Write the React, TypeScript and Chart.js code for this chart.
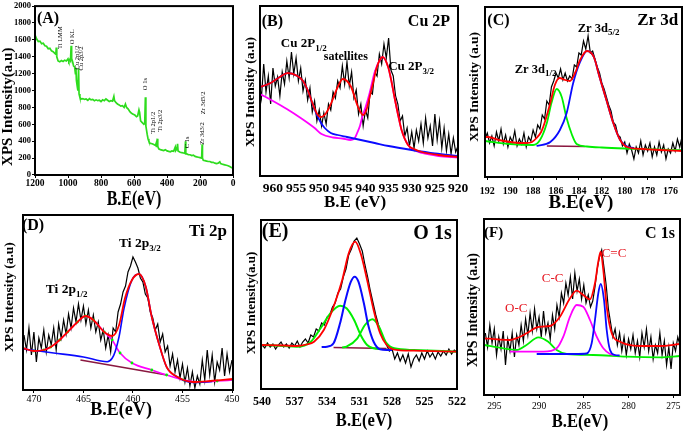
import React, { useEffect, useRef } from 'react';
import { Chart, registerables } from 'chart.js';

Chart.register(...registerables);

const FONT = '"Liberation Serif", "Times New Roman", serif';
const W = 685;
const H = 435;

type Pt = [number, number];

// ---------- (A) survey ----------
const surveyData: Pt[] = [
  [1200, 1660], [1190, 1610], [1180, 1580], [1170, 1585], [1160, 1555], [1150, 1560], [1140, 1530], [1130, 1525],
  [1120, 1495], [1110, 1500], [1100, 1470], [1090, 1460], [1080, 1440], [1074, 1430], [1071, 1510], [1068, 1400],
  [1060, 1350], [1050, 1340], [1040, 1355], [1030, 1345], [1020, 1360], [1010, 1350], [1000, 1375], [995, 1345],
  [990, 1365], [985, 1350], [981, 1530], [978, 1380], [972, 1340], [966, 1290], [960, 1280], [955, 1200],
  [952, 1270], [949, 1120], [944, 1050], [940, 1000], [936, 1260], [933, 960], [928, 920], [920, 900],
  [910, 905], [900, 895], [890, 900], [880, 885], [870, 905], [860, 890], [850, 895], [840, 880], [830, 890],
  [820, 880], [810, 885], [800, 870], [790, 890], [780, 880], [770, 900], [760, 885], [750, 870], [740, 880],
  [730, 875], [722, 930], [718, 880], [710, 860], [700, 840], [690, 830], [680, 815], [670, 820], [660, 800],
  [652, 840], [645, 800], [635, 780], [625, 750], [615, 730], [605, 720], [595, 710], [585, 690], [578, 700],
  [570, 770], [566, 740], [560, 640], [550, 620], [540, 600], [535, 610], [531, 920], [528, 580], [520, 480],
  [515, 430], [510, 400], [505, 380], [500, 375], [490, 370], [480, 360], [470, 350], [465, 380], [463, 330],
  [459, 430], [456, 340], [450, 310], [440, 300], [430, 295], [420, 290], [410, 300], [400, 285], [390, 280],
  [380, 275], [370, 285], [360, 280], [350, 330], [347, 290], [340, 310], [336, 370], [333, 285], [320, 270],
  [310, 265], [300, 260], [292, 255], [288, 400], [286, 250], [280, 250], [270, 240], [260, 240], [250, 230],
  [240, 235], [230, 220], [220, 215], [210, 210], [200, 205], [190, 200], [187, 365], [185, 200], [180, 175],
  [170, 170], [160, 165], [150, 160], [140, 160], [130, 150], [120, 150], [110, 140], [100, 135], [90, 140],
  [80, 155], [75, 135], [60, 125], [50, 120], [40, 115], [30, 110], [20, 100], [10, 90], [0, 80],
];

// ---------- (B) Cu 2p ----------
const cuRaw: Pt[] = [
  [963, 95], [962.5, 78], [962, 112], [961.5, 84], [961, 100], [960.5, 72], [960, 108], [959.5, 90], [959, 99],
  [958.5, 80], [958, 104], [957.5, 92], [957, 115], [956.5, 98], [956, 124], [955.5, 102], [955, 118], [954.5, 95],
  [954, 108], [953.5, 85], [953, 96], [952.5, 76], [952, 88], [951.5, 64], [951, 75], [950.5, 55], [950, 66],
  [949.5, 50], [949, 63], [948.5, 52], [948, 72], [947.5, 66], [947, 84], [946.5, 78], [946, 95], [945.5, 88],
  [945, 110], [944.5, 92], [944, 114], [943.5, 90], [943, 104], [942.5, 78], [942, 86], [941.5, 62], [941, 72],
  [940.5, 50], [940, 66], [939.5, 58], [939, 84], [938.5, 82], [938, 104], [937.5, 100], [937, 122], [936.5, 112],
  [936, 132], [935.5, 118], [935, 138], [934.5, 106], [934, 100], [933.5, 80], [933, 72], [932.5, 55], [932, 60],
  [931.5, 40], [931, 48], [930.5, 30], [930, 44], [929.5, 28], [929, 46], [928.5, 35], [928, 52], [927.5, 33],
  [927, 58], [926.5, 38], [926, 50], [925.5, 30], [925, 62], [924.5, 36], [924, 55], [923.5, 28], [923, 48],
  [922.5, 25], [922, 42], [921.5, 22], [921, 38], [920.5, 24], [920, 30],
];
const cuFit: Pt[] = [
  [962.8, 89], [961.5, 91], [960.5, 93], [958.5, 99], [956.8, 103], [954.7, 100], [953.5, 95], [952.5, 86],
  [951.4, 72], [950.3, 61], [949.6, 59], [948.5, 63], [947.4, 73], [946, 89], [944.9, 97], [944, 95], [943.1, 89],
  [941.6, 69], [940.5, 61], [939.8, 66], [939.1, 79], [938.3, 94], [937.6, 108], [936.3, 119], [935.1, 109],
  [934.4, 95], [933.7, 78], [932.9, 60], [932.2, 46], [930.8, 31], [929.5, 27], [927.8, 24], [924.2, 21], [920, 19],
];
const cuP12: Pt[] = [
  [962.8, 89], [961.5, 91], [960.5, 93], [958.5, 99], [956.8, 103], [954.7, 100], [953.5, 95], [952.5, 86],
  [951.5, 73], [950.5, 61], [949.6, 53], [948.8, 48], [947.5, 43], [946, 41], [944, 39], [942, 37], [938, 33],
  [935, 30], [930, 26], [925, 22.5], [920, 20],
];
const cuP32: Pt[] = [
  [962.8, 82], [960, 75], [957, 67], [954, 58], [951, 48], [949.5, 42], [947, 38.5], [945, 37.5], [943.2, 36],
  [942.3, 38], [941.8, 43], [941.2, 50], [940.7, 59], [939.9, 70], [939.1, 83], [938, 104], [936.9, 116],
  [936.3, 119], [935.1, 109], [934.4, 95], [933.7, 78], [932.9, 60], [932.2, 46], [930.8, 31], [929.5, 26],
  [927.8, 23], [924.2, 20], [920, 18.5],
];

// ---------- (C) Zr 3d ----------
const zrRaw: Pt[] = [
  [192.2, 38], [192.0, 44], [191.8, 34], [191.6, 41], [191.4, 31], [191.2, 45], [191.0, 36], [190.8, 48],
  [190.6, 33], [190.4, 42], [190.2, 30], [190.0, 40], [189.8, 35], [189.6, 46], [189.4, 31], [189.2, 38],
  [189.0, 33], [188.8, 44], [188.6, 30], [188.4, 40], [188.2, 36], [188.0, 47], [187.8, 40], [187.6, 52],
  [187.4, 48], [187.2, 62], [187.0, 58], [186.8, 76], [186.6, 72], [186.4, 90], [186.2, 96], [186.0, 104],
  [185.8, 99], [185.6, 108], [185.4, 97], [185.2, 104], [185.0, 96], [184.8, 101], [184.6, 98], [184.4, 112],
  [184.2, 110], [184.0, 124], [183.8, 122], [183.6, 136], [183.4, 128], [183.2, 141], [183.0, 124], [182.8, 126],
  [182.6, 118], [182.4, 110], [182.2, 104], [182.0, 94], [181.8, 88], [181.6, 80], [181.4, 72], [181.2, 66],
  [181.0, 55], [180.8, 52], [180.6, 42], [180.4, 40], [180.2, 31], [180.0, 35], [179.8, 24], [179.6, 33],
  [179.4, 27], [179.2, 18], [179.0, 30], [178.8, 24], [178.6, 36], [178.4, 22], [178.2, 32], [178.0, 26],
  [177.8, 34], [177.6, 20], [177.4, 30], [177.2, 22], [177.0, 35], [176.8, 25], [176.6, 32], [176.4, 18],
  [176.2, 28], [176.0, 24], [175.8, 34], [175.6, 26], [175.4, 38], [175.2, 30], [175.0, 40],
];
const zrFit: Pt[] = [
  [192.2, 40], [191.9, 40], [191, 37], [190, 35], [189, 34], [188.6, 34], [188.1, 35], [187.7, 39], [187.3, 45],
  [187, 54], [186.5, 74], [186.1, 92], [185.7, 99], [185.2, 97], [184.8, 96], [184.3, 105], [183.9, 117],
  [183.3, 126], [182.7, 120], [182.2, 100], [181.6, 77], [181, 54], [180.4, 37], [179.8, 30], [178.4, 28],
  [176.9, 27], [175, 26],
];
const zr52: Pt[] = [
  [187.7, 31], [186.5, 35], [185.66, 47], [185.07, 64], [184.5, 94], [183.9, 115], [183.3, 126], [182.7, 120],
  [182.2, 100], [181.6, 77], [181, 54], [180.4, 37], [179.8, 30.5], [179.2, 29],
];
const zr32: Pt[] = [
  [192.2, 36], [190, 33], [188, 32], [187.4, 37], [186.8, 54], [186.4, 74], [185.94, 88], [185.5, 80],
  [185.1, 60], [184.6, 42], [184.2, 33], [183.3, 30.5], [182, 29.5], [180, 28.5], [178, 27.8], [175, 26.8],
];
const zrBase: Pt[] = [[186.8, 31], [183.5, 30.5]];

// ---------- (D) Ti 2p ----------
const tiRaw: Pt[] = [
  [471.0, 55], [470.75, 40], [470.5, 62], [470.25, 35], [470.0, 58], [469.75, 28], [469.5, 52], [469.25, 42],
  [469.0, 60], [468.75, 38], [468.5, 55], [468.25, 45], [468.0, 62], [467.75, 40], [467.5, 66], [467.25, 52],
  [467.0, 70], [466.75, 56], [466.5, 76], [466.25, 62], [466.0, 82], [465.75, 68], [465.5, 86], [465.25, 70],
  [465.0, 84], [464.75, 66], [464.5, 80], [464.25, 62], [464.0, 75], [463.75, 58], [463.5, 68], [463.25, 50],
  [463.0, 60], [462.75, 42], [462.5, 55], [462.25, 38], [462.0, 62], [461.75, 58], [461.5, 78], [461.25, 86],
  [461.0, 98], [460.75, 104], [460.5, 118], [460.25, 124], [460.0, 133], [459.75, 128], [459.5, 122],
  [459.25, 112], [459.0, 108], [458.75, 96], [458.5, 92], [458.25, 78], [458.0, 72], [457.75, 60], [457.5, 66],
  [457.25, 48], [457.0, 56], [456.75, 38], [456.5, 44], [456.25, 24], [456.0, 36], [455.75, 18], [455.5, 30],
  [455.25, 12], [455.0, 26], [454.75, 8], [454.5, 22], [454.25, 4], [454.0, 18], [453.75, 2], [453.5, 14],
  [453.25, 6], [453.0, 30], [452.75, 10], [452.5, 40], [452.25, 15], [452.0, 35], [451.75, 8], [451.5, 28],
  [451.25, 20], [451.0, 42], [450.75, 14], [450.5, 36], [450.25, 18], [450.0, 30],
];
const tiFit: Pt[] = [
  [471.1, 42], [470, 39], [469, 40], [468.3, 43], [467.4, 50], [466.6, 58], [465.6, 68], [464.8, 74], [464, 70],
  [462.9, 58], [462.1, 54], [461.4, 65], [460.8, 92], [460.1, 110], [459.4, 116], [458.7, 103], [458.1, 73],
  [457.4, 47], [456.6, 23], [455.5, 13], [453.9, 8], [452.2, 9], [449.9, 11],
];
const ti32: Pt[] = [
  [471.1, 41], [468, 37], [465, 33], [462.6, 28.3], [462.1, 31.7], [461.8, 38.3], [461.4, 53.3], [460.9, 81.7],
  [460.1, 110], [459.4, 116], [458.7, 103], [458.1, 73], [457.4, 47], [456.6, 23], [455.5, 13], [453.9, 7.5],
  [452, 8.5],
];
const ti12: Pt[] = [
  [471.1, 42], [470, 39], [469, 40], [468.3, 43], [467.4, 50], [466.6, 58], [465.6, 68], [464.8, 74], [464, 70],
  [462.9, 58], [462.1, 50], [461.3, 37], [460.1, 27], [458.1, 20], [456.6, 15], [454.9, 10], [453.2, 8],
  [451.5, 9], [449.9, 10],
];
const tiBase: Pt[] = [[465.3, 30], [456.6, 15]];

// ---------- (E) O 1s ----------
const oRaw: Pt[] = [
  [540.0, 44], [539.75, 41], [539.5, 46], [539.25, 42], [539.0, 45], [538.75, 40], [538.5, 44], [538.25, 47],
  [538.0, 42], [537.75, 45], [537.5, 41], [537.25, 46], [537.0, 43], [536.75, 48], [536.5, 42], [536.25, 47],
  [536.0, 50], [535.75, 46], [535.5, 54], [535.25, 52], [535.0, 60], [534.75, 58], [534.5, 66], [534.25, 64],
  [534.0, 72], [533.75, 74], [533.5, 82], [533.25, 86], [533.0, 96], [532.75, 100], [532.5, 112], [532.25, 120],
  [532.0, 134], [531.75, 140], [531.5, 148], [531.25, 151], [531.0, 145], [530.75, 138], [530.5, 124],
  [530.25, 112], [530.0, 98], [529.75, 86], [529.5, 74], [529.25, 64], [529.0, 56], [528.75, 50], [528.5, 44],
  [528.25, 38], [528.0, 40], [527.75, 30], [527.5, 36], [527.25, 28], [527.0, 34], [526.75, 26], [526.5, 35],
  [526.25, 22], [526.0, 30], [525.75, 34], [525.5, 28], [525.25, 36], [525.0, 30], [524.75, 38], [524.5, 32],
  [524.25, 36], [524.0, 30], [523.75, 37], [523.5, 33], [523.25, 38], [523.0, 34], [522.75, 40], [522.5, 35],
  [522.25, 39], [522.0, 37],
];
const oFit: Pt[] = [
  [540.1, 44], [538, 43.5], [536.8, 43], [535.9, 44.5], [535.2, 47.3], [534.3, 59], [533.4, 82.3], [532.6, 109],
  [532, 135.7], [531.4, 147.3], [530.9, 135.7], [530.3, 109], [529.7, 79], [529.1, 55.7], [528.5, 44],
  [527.9, 39.7], [526, 38.3], [522, 37.3],
];
const oLattice: Pt[] = [
  [534.5, 42], [534, 42.3], [533.4, 45.7], [532.8, 65.7], [532.3, 89], [531.8, 107.3], [531.45, 112.3],
  [531.1, 107.3], [530.6, 85.7], [530.2, 64], [529.7, 47.3], [529.1, 39.7], [528.5, 39], [528, 39],
];
const oHigh: Pt[] = [
  [540.1, 44], [538, 43], [536.8, 42.3], [535.5, 47.3], [534.6, 60.7], [533.7, 75.7], [532.8, 83.3],
  [532.2, 80.7], [531.5, 69], [530.9, 54], [530.3, 44], [529.7, 40.7], [529, 40],
];
const oLow: Pt[] = [
  [532.6, 41.5], [532.2, 42.3], [531.2, 50.7], [530.5, 64], [529.8, 69.7], [529.2, 62.3], [528.6, 47.3],
  [527.8, 40.7], [526, 39], [522, 37.3],
];
const oBase: Pt[] = [[533.4, 41.5], [528.5, 40.5]];

// ---------- (F) C 1s ----------
const cRaw: Pt[] = [
  [296.0, 62], [295.75, 48], [295.5, 70], [295.25, 52], [295.0, 66], [294.75, 40], [294.5, 58], [294.25, 46],
  [294.0, 64], [293.75, 30], [293.5, 56], [293.25, 44], [293.0, 62], [292.75, 38], [292.5, 60], [292.25, 50],
  [292.0, 70], [291.75, 54], [291.5, 76], [291.25, 60], [291.0, 82], [290.75, 64], [290.5, 86], [290.25, 66],
  [290.0, 78], [289.75, 58], [289.5, 84], [289.25, 62], [289.0, 72], [288.75, 56], [288.5, 80], [288.25, 66],
  [288.0, 90], [287.75, 78], [287.5, 102], [287.25, 92], [287.0, 112], [286.75, 100], [286.5, 118], [286.25, 96],
  [286.0, 122], [285.75, 104], [285.5, 116], [285.25, 96], [285.0, 110], [284.75, 92], [284.5, 100],
  [284.25, 88], [284.0, 94], [283.75, 108], [283.5, 126], [283.25, 138], [283.0, 145], [282.75, 128],
  [282.5, 110], [282.25, 86], [282.0, 72], [281.75, 58], [281.5, 66], [281.25, 50], [281.0, 62], [280.75, 44],
  [280.5, 58], [280.25, 40], [280.0, 56], [279.75, 46], [279.5, 60], [279.25, 42], [279.0, 54], [278.75, 38],
  [278.5, 62], [278.25, 48], [278.0, 66], [277.75, 44], [277.5, 58], [277.25, 36], [277.0, 50], [276.75, 42],
  [276.5, 62], [276.25, 40], [276.0, 54], [275.75, 30], [275.5, 48], [275.25, 26], [275.0, 52], [274.75, 44],
  [274.5, 58], [274.25, 50],
];
const cFit: Pt[] = [
  [296.1, 56.7], [294.5, 55.5], [293.25, 55], [292.3, 57.5], [291.4, 61.7], [290.26, 67.7], [289.5, 68.5],
  [288.78, 69], [287.66, 78.3], [286.54, 96.7], [285.79, 104.3], [285.06, 100], [284.31, 95.7], [283.75, 111.7],
  [283.38, 133.3], [283.11, 143.3], [282.82, 125], [282.44, 88.3], [281.88, 61.7], [280.96, 53.3], [278.35, 49],
  [276.49, 49], [274.25, 51],
];
const cOC: Pt[] = [
  [296.1, 50], [294, 46.7], [292.5, 45], [291.4, 50], [290.08, 57.7], [288.97, 53.3], [288.03, 45], [286.9, 41],
  [283.94, 40], [280.2, 38.3], [276.49, 37.7], [274.25, 39],
];
const cCC: Pt[] = [
  [293.25, 43.3], [289.5, 43.3], [288.03, 46.7], [287.29, 58.3], [286.54, 78.3], [285.79, 90], [285.06, 88.3],
  [284.31, 75], [283.56, 58.3], [282.82, 46.7], [282.07, 41], [281.5, 40],
];
const cCdC: Pt[] = [
  [290.26, 41], [286, 41], [284.68, 41.5], [284.12, 51.7], [283.75, 75], [283.38, 101.7], [283.11, 111],
  [282.74, 95], [282.44, 65], [282.07, 45], [281.51, 40], [281, 39.5],
];

// ---------- helpers ----------
type Part = { t: string; sub?: boolean };
type Note = {
  x: number; y: number; parts: Part[]; size: number; bold?: boolean; color?: string;
  rot?: boolean; align?: 'left' | 'center' | 'right'; frac?: boolean; mid?: boolean; sx?: number;
};
type Series = { data: Pt[]; color: string; width: number; smooth?: boolean; order: number; dots?: string };
type Panel = {
  rect: [number, number, number, number];
  xMin: number; xMax: number; xStep: number;
  yMin: number; yMax: number; yStep?: number; showY?: boolean;
  tickSize: number; tickBold: boolean; tickPad: number; tickLen: number;
  series: Series[]; notes: Note[];
};

const RED = '#ff0000';
const BLUE = '#0a0aff';
const GREEN = '#00f000';
const MAG = '#ff00ff';
const MAROON = '#8a1840';
const BLACK = '#000000';
const LRED = '#e5141e';

const T = (t: string): Part => ({ t });
const S = (t: string): Part => ({ t, sub: true });
const plainTick = (v: any) => String(v);

function makeNotes(notes: Note[]) {
  return {
    id: 'notes',
    afterDraw(chart: any) {
      const { ctx, chartArea: ca, scales } = chart;
      ctx.save();
      ctx.strokeStyle = '#000';
      ctx.lineWidth = 2;
      ctx.strokeRect(ca.left, ca.top, ca.right - ca.left, ca.bottom - ca.top);
      for (const n of notes) {
        let px: number;
        let py: number;
        if (n.frac) {
          px = ca.left + n.x * (ca.right - ca.left);
          py = ca.top + n.y * (ca.bottom - ca.top);
        } else {
          px = scales.x.getPixelForValue(n.x);
          py = scales.y.getPixelForValue(n.y);
        }
        ctx.save();
        ctx.translate(px, py);
        if (n.rot) ctx.rotate(-Math.PI / 2);
        if (n.sx) ctx.scale(n.sx, 1);
        const wt = n.bold === false ? 'normal' : 'bold';
        const mainF = `${wt} ${n.size}px ${FONT}`;
        const subF = `${wt} ${Math.round(n.size * 0.68)}px ${FONT}`;
        let total = 0;
        for (const p of n.parts) {
          ctx.font = p.sub ? subF : mainF;
          total += ctx.measureText(p.t).width;
        }
        let cx = n.align === 'center' ? -total / 2 : n.align === 'right' ? -total : 0;
        ctx.textAlign = 'left';
        ctx.textBaseline = n.mid ? 'middle' : 'alphabetic';
        ctx.fillStyle = n.color || '#000';
        for (const p of n.parts) {
          ctx.font = p.sub ? subF : mainF;
          ctx.fillText(p.t, cx, p.sub ? n.size * 0.3 : 0);
          cx += ctx.measureText(p.t).width;
        }
        ctx.restore();
      }
      ctx.restore();
    },
  };
}

const yTitle = (x: number, y: number, text: string, size: number): Note => ({
  x, y, parts: [T(text)], size, rot: true, align: 'center', mid: true, frac: true,
});
const xTitle = (x: number, y: number, text: string, size: number, sx?: number): Note => ({
  x, y, parts: [T(text)], size, align: 'center', mid: true, frac: true, sx,
});
const surveyNote = (x: number, y: number, text: string): Note => ({
  x, y, parts: [T(text)], size: 6.5, bold: false, rot: true, align: 'center', mid: true,
});

const PANELS: Panel[] = [
  {
    rect: [35, 4, 233, 175], xMin: 0, xMax: 1200, xStep: 200, yMin: 0, yMax: 2000, yStep: 200, showY: true,
    tickSize: 9.5, tickBold: true, tickPad: 0, tickLen: 3,
    series: [{ data: surveyData, color: '#2edc1e', width: 1.7, order: 1 }],
    notes: [
      { x: 0.01, y: 0.1, parts: [T('(A)')], size: 16, frac: true },
      surveyNote(1048, 1626, 'Ti LMM'),
      surveyNote(976, 1637, 'O KL'),
      surveyNote(946, 1392, 'Cu 2p1/2'),
      surveyNote(921, 1380, 'Cu 2p3/2'),
      surveyNote(534, 1076, 'O 1s'),
      surveyNote(484, 620, 'Ti 2p1/2'),
      surveyNote(439, 643, 'Ti 2p3/2'),
      surveyNote(278, 386, 'C 1s'),
      surveyNote(181, 854, 'Zr 3d5/2'),
      surveyNote(187.5, 491, 'Zr 3d3/2'),
      xTitle(0.5, 1.146, 'B.E(eV)', 20, 0.8),
      yTitle(-0.136, 0.596, 'XPS Intensity(a.u)', 15),
    ],
  },
  {
    rect: [260, 6, 458, 176], xMin: 920, xMax: 962.8, xStep: 5, yMin: 0, yMax: 170,
    tickSize: 13.5, tickBold: true, tickPad: 4, tickLen: 0,
    series: [
      { data: cuFit, color: RED, width: 1.8, smooth: true, order: 1 },
      { data: cuP12, color: BLUE, width: 1.8, smooth: true, order: 2 },
      { data: cuP32, color: MAG, width: 1.8, smooth: true, order: 3 },
      { data: cuRaw, color: BLACK, width: 1.2, order: 10 },
    ],
    notes: [
      { x: 0.009, y: 0.118, parts: [T('(B)')], size: 16, frac: true },
      { x: 0.96, y: 0.118, parts: [T('Cu 2P')], size: 16, frac: true, align: 'right' },
      { x: 958.3, y: 128.7, parts: [T('Cu 2P'), S('1/2')], size: 13 },
      { x: 949.0, y: 116, parts: [T('satellites')], size: 12 },
      { x: 935.1, y: 106, parts: [T('Cu 2P'), S('3/2')], size: 13 },
      xTitle(0.48, 1.159, 'B.E (eV)', 17),
      yTitle(-0.05, 0.506, 'XPS Intensity (a.u)', 13.5),
    ],
  },
  {
    rect: [485, 7, 682, 177], xMin: 175, xMax: 192.2, xStep: 2, yMin: 0, yMax: 170,
    tickSize: 10, tickBold: true, tickPad: 5, tickLen: 3,
    series: [
      { data: zrFit, color: RED, width: 1.8, smooth: true, order: 1 },
      { data: zr52, color: BLUE, width: 1.8, smooth: true, order: 2 },
      { data: zr32, color: GREEN, width: 1.8, smooth: true, order: 3 },
      { data: zrBase, color: MAROON, width: 1.6, order: 4 },
      { data: zrRaw, color: BLACK, width: 1.2, order: 10 },
    ],
    notes: [
      { x: 0.012, y: 0.106, parts: [T('(C)')], size: 16, frac: true },
      { x: 0.981, y: 0.106, parts: [T('Zr 3d')], size: 17, frac: true, align: 'right' },
      { x: 189.6, y: 104.3, parts: [T('Zr 3d'), S('1/2')], size: 12.5 },
      { x: 184.1, y: 145.3, parts: [T('Zr 3d'), S('5/2')], size: 12.5 },
      xTitle(0.487, 1.153, 'B.E(eV)', 19),
      yTitle(-0.051, 0.47, 'XPS Intensity (a.u)', 13.5),
    ],
  },
  {
    rect: [23, 215, 233, 390], xMin: 449.9, xMax: 471.1, xStep: 5, yMin: 0, yMax: 175,
    tickSize: 10, tickBold: false, tickPad: 0, tickLen: 3,
    series: [
      { data: tiFit, color: RED, width: 1.8, smooth: true, order: 1 },
      { data: ti32, color: BLUE, width: 1.6, smooth: true, order: 2 },
      { data: ti12, color: MAG, width: 1.6, smooth: true, order: 3, dots: GREEN },
      { data: tiBase, color: MAROON, width: 1.6, order: 4 },
      { data: tiRaw, color: BLACK, width: 1.2, order: 10 },
    ],
    notes: [
      { x: -0.005, y: 0.086, parts: [T('(D)')], size: 16, frac: true },
      { x: 0.971, y: 0.12, parts: [T('Ti 2p')], size: 17, frac: true, align: 'right' },
      { x: 468.8, y: 96.7, parts: [T('Ti 2p'), S('1/2')], size: 13.5 },
      { x: 461.4, y: 143.3, parts: [T('Ti 2p'), S('3/2')], size: 13.5 },
      xTitle(0.467, 1.114, 'B.E(eV)', 19, 0.95),
      yTitle(-0.062, 0.469, 'XPS Intensity (a.u)', 13.5),
    ],
  },
  {
    rect: [261, 220, 457, 389], xMin: 522, xMax: 540.1, xStep: 3, yMin: 0, yMax: 169,
    tickSize: 12, tickBold: true, tickPad: 6, tickLen: 0,
    series: [
      { data: oFit, color: RED, width: 1.8, smooth: true, order: 1 },
      { data: oLattice, color: BLUE, width: 2, smooth: true, order: 2 },
      { data: oHigh, color: GREEN, width: 2, smooth: true, order: 3 },
      { data: oLow, color: GREEN, width: 2, smooth: true, order: 3 },
      { data: oBase, color: MAROON, width: 1.6, order: 4 },
      { data: oRaw, color: BLACK, width: 1.2, order: 10 },
    ],
    notes: [
      { x: 0.004, y: 0.102, parts: [T('(E)')], size: 20, frac: true },
      { x: 0.973, y: 0.114, parts: [T('O 1s')], size: 20, frac: true, align: 'right' },
      xTitle(0.526, 1.189, 'B.E(eV)', 19, 0.87),
      yTitle(-0.046, 0.491, 'XPS Intensity(a.u)', 13),
    ],
  },
  {
    rect: [484, 219, 680, 395], xMin: 274.25, xMax: 296.15, xStep: 5, yMin: 0, yMax: 176,
    tickSize: 9.5, tickBold: false, tickPad: 3, tickLen: 3,
    series: [
      { data: cFit, color: RED, width: 1.8, smooth: true, order: 1 },
      { data: cCdC, color: BLUE, width: 1.8, smooth: true, order: 2 },
      { data: cCC, color: MAG, width: 1.8, smooth: true, order: 3 },
      { data: cOC, color: GREEN, width: 1.8, smooth: true, order: 4 },
      { data: cRaw, color: BLACK, width: 1.2, order: 10 },
    ],
    notes: [
      { x: 0, y: 0.104, parts: [T('(F)')], size: 15, frac: true },
      { x: 0.974, y: 0.11, parts: [T('C 1s')], size: 16, frac: true, align: 'right' },
      { x: 283.0, y: 138.3, parts: [T('C=C')], size: 13, bold: false, color: LRED },
      { x: 289.7, y: 113.3, parts: [T('C-C')], size: 13, bold: false, color: LRED },
      { x: 293.8, y: 83.3, parts: [T('O-C')], size: 13, bold: false, color: LRED },
      xTitle(0.49, 1.153, 'B.E(eV)', 19.5, 0.85),
      yTitle(-0.056, 0.517, 'XPS Intensity (a.u)', 14),
    ],
  },
];

function build(canvas: HTMLCanvasElement, p: Panel) {
  const [x0, y0, x1, y1] = p.rect;
  const yW = p.showY ? 30 : 0;
  const xH = 30;
  const tickFont = { family: FONT, size: p.tickSize, weight: p.tickBold ? 'bold' : 'normal' } as any;
  const yScale: any = p.showY
    ? {
        type: 'linear', min: p.yMin, max: p.yMax,
        border: { display: false },
        grid: { display: true, drawOnChartArea: false, drawTicks: true, tickLength: 3, color: '#000' },
        ticks: {
          stepSize: p.yStep, padding: 1, color: '#000', callback: plainTick,
          font: { family: FONT, size: 8.5, weight: 'bold' },
        },
        afterFit: (s: any) => { s.width = yW; },
      }
    : { type: 'linear', display: false, min: p.yMin, max: p.yMax };
  return new Chart(canvas, {
    type: 'line',
    data: {
      datasets: p.series.map((s) => ({
        data: s.data.map(([x, y]) => ({ x, y })),
        borderColor: s.color,
        backgroundColor: s.color,
        borderWidth: s.width,
        pointRadius: s.dots ? 1.4 : 0,
        pointBackgroundColor: s.dots || s.color,
        pointBorderWidth: 0,
        cubicInterpolationMode: s.smooth ? 'monotone' : 'default',
        tension: 0,
        fill: false,
        order: s.order,
      })),
    } as any,
    options: {
      animation: false,
      responsive: false,
      events: [],
      layout: { padding: { left: x0 - yW, top: y0, right: W - x1, bottom: H - y1 - xH } },
      plugins: { legend: { display: false }, tooltip: { enabled: false } },
      scales: {
        x: {
          type: 'linear', min: p.xMin, max: p.xMax, reverse: true,
          border: { display: false },
          grid: {
            display: p.tickLen > 0, drawOnChartArea: false, drawTicks: p.tickLen > 0,
            tickLength: p.tickLen, color: '#000',
          },
          ticks: {
            stepSize: p.xStep, includeBounds: false, autoSkip: false, maxRotation: 0, minRotation: 0,
            padding: p.tickPad, color: '#000', font: tickFont, callback: plainTick,
          },
          afterFit: (s: any) => { s.height = xH; },
        } as any,
        y: yScale,
      },
    } as any,
    plugins: [makeNotes(p.notes)],
  });
}

export default function App() {
  const refs = useRef<(HTMLCanvasElement | null)[]>([]);
  useEffect(() => {
    const charts = PANELS.map((p, i) => build(refs.current[i] as HTMLCanvasElement, p));
    return () => charts.forEach((c) => c.destroy());
  }, []);
  return (
    <div style={{ position: 'fixed', left: 0, top: 0, width: W, height: H, background: '#fff', overflow: 'hidden' }}>
      {PANELS.map((_, i) => (
        <canvas
          key={i}
          ref={(el) => { refs.current[i] = el; }}
          width={W}
          height={H}
          style={{ position: 'absolute', left: 0, top: 0, width: W, height: H }}
        />
      ))}
    </div>
  );
}
